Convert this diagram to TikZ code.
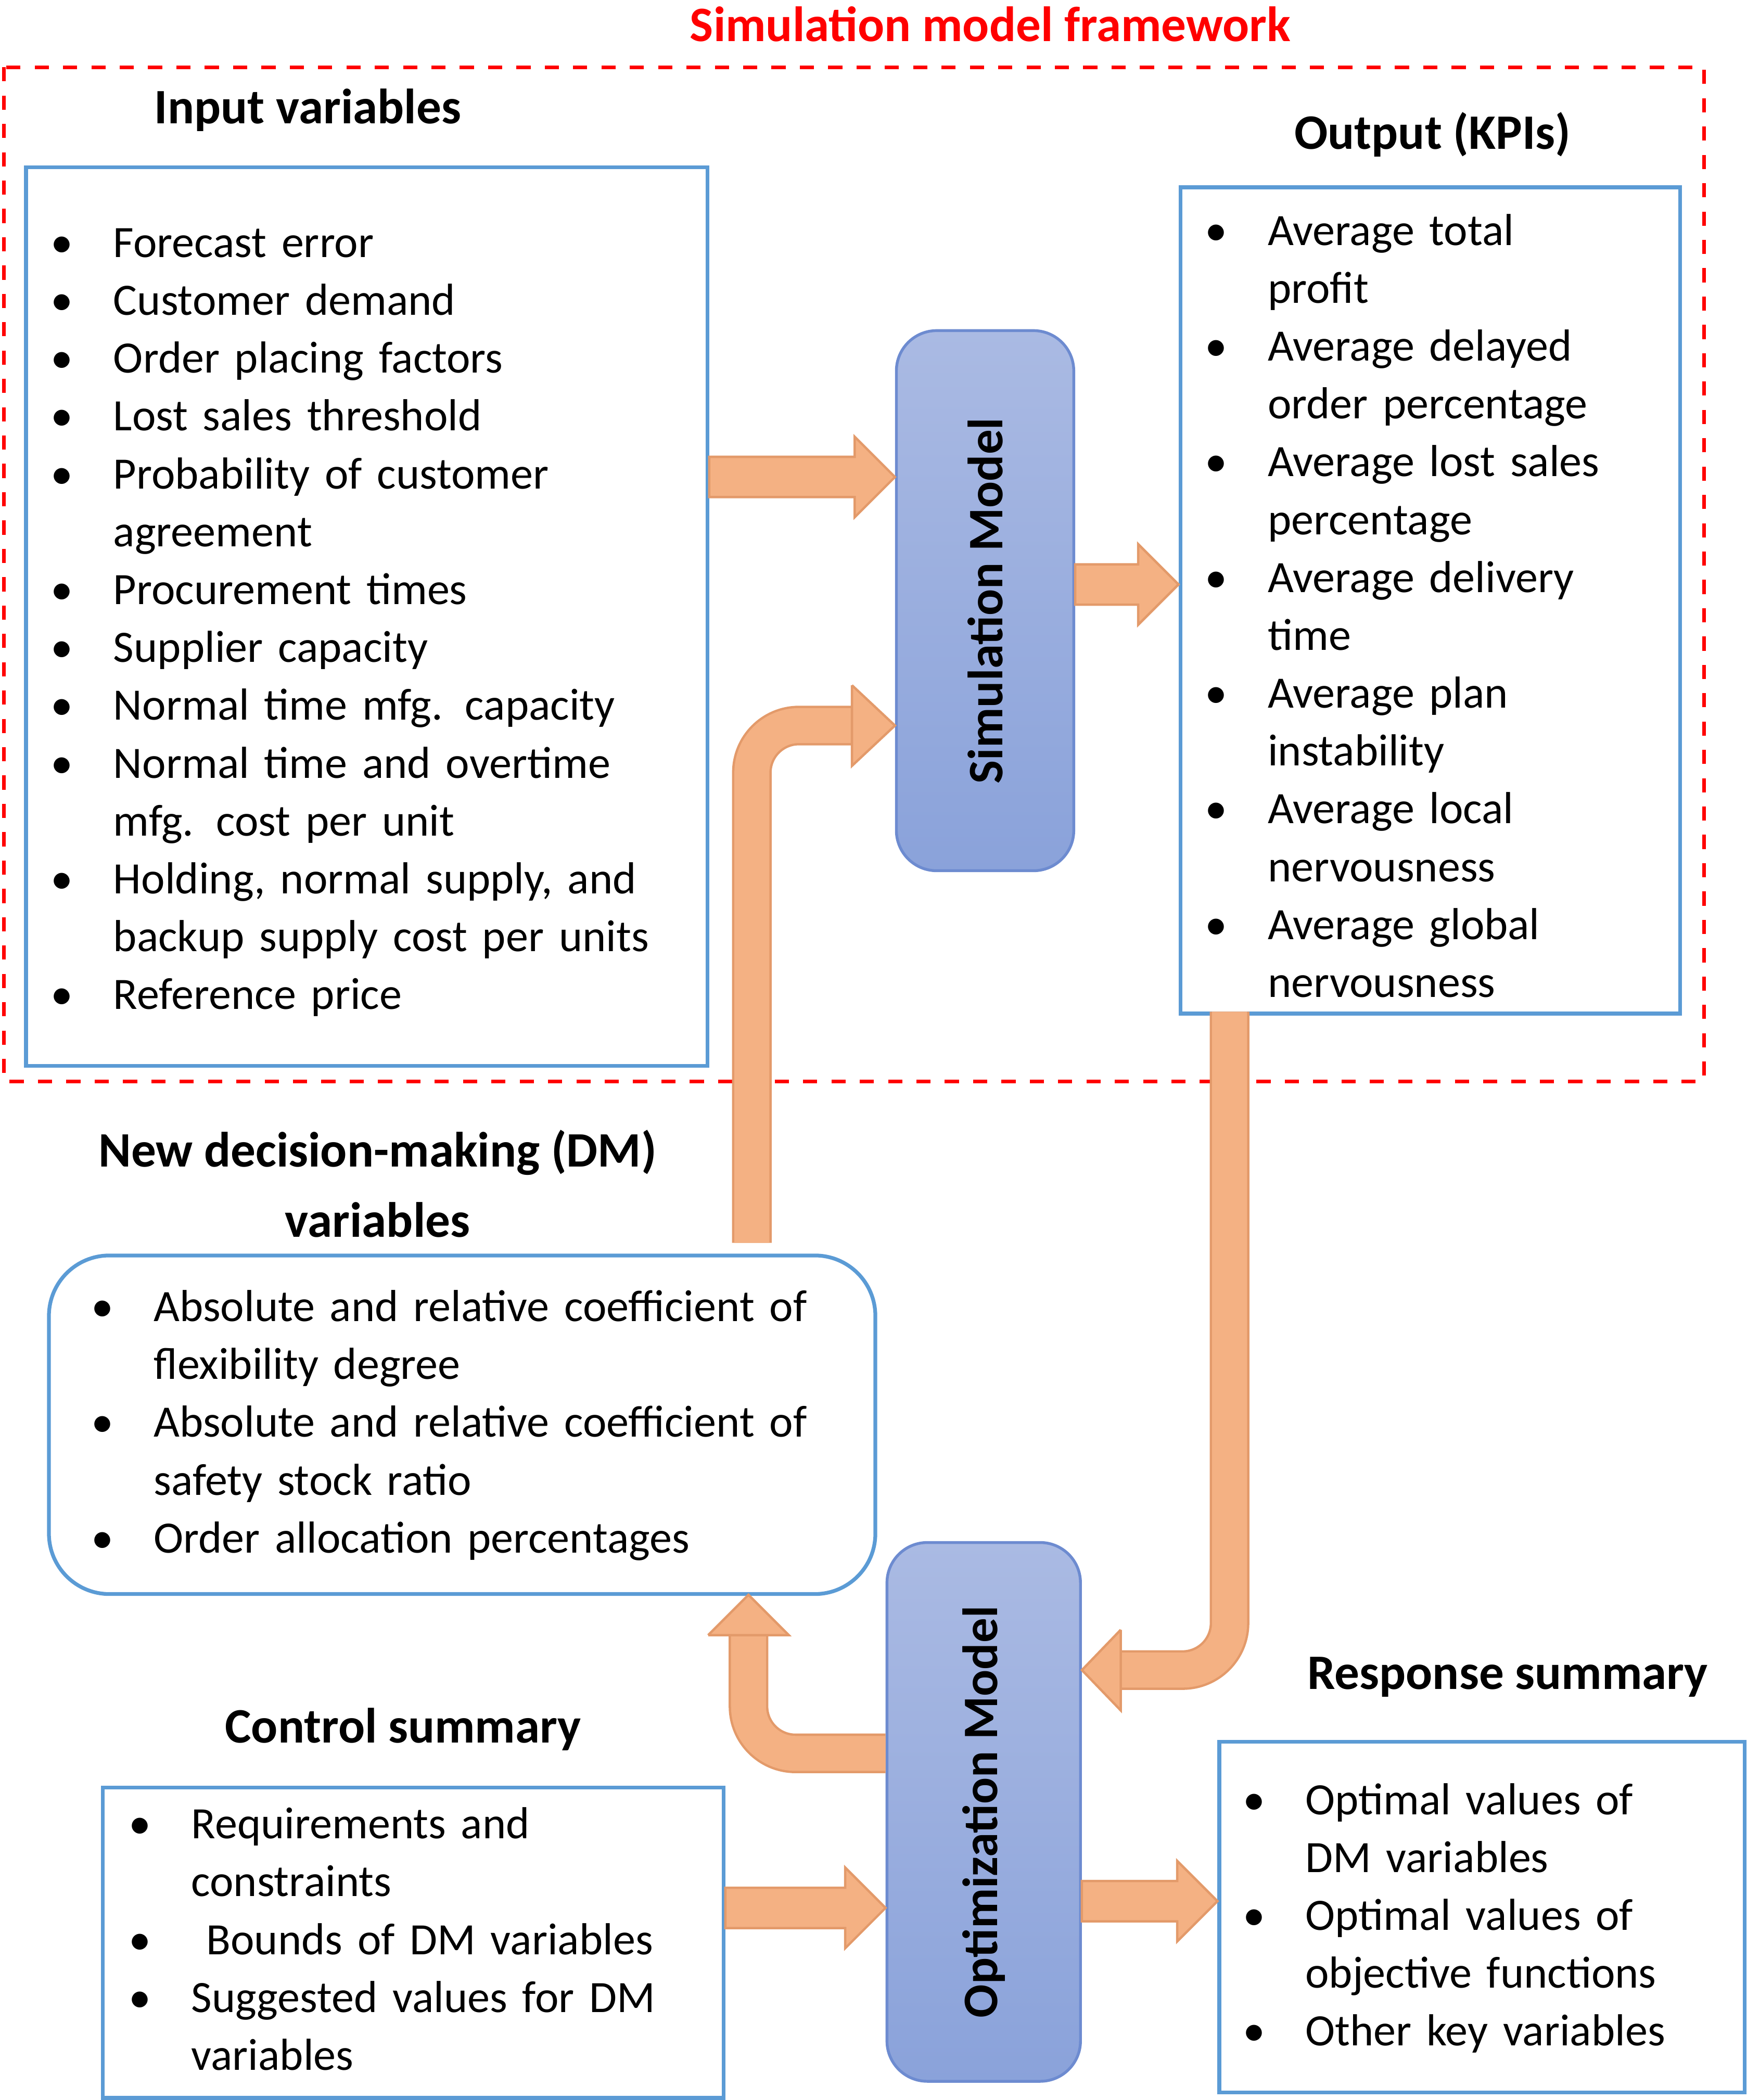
\documentclass[tikz,border=0pt]{standalone}
\usepackage{fontspec}
\setmainfont{Carlito}
\usepackage{enumitem}
\usetikzlibrary{calc,positioning}
\definecolor{boxline}{HTML}{5B9BD5}
\definecolor{arrowfill}{HTML}{F4B183}
\definecolor{arrowline}{HTML}{E39A6A}
\definecolor{modtop}{HTML}{AABAE3}
\definecolor{modbot}{HTML}{8AA2DA}
\definecolor{modline}{HTML}{6D8BD0}
\tikzset{
  txt/.style={font=\fontsize{9.5}{12.25}\selectfont},
  ttl/.style={font=\fontsize{10.5}{12.6}\selectfont\bfseries, align=center},
  listbox/.style={draw=boxline, line width=0.8pt, inner sep=0pt},
  model/.style={draw=modline, line width=0.6pt, rounded corners=0.3cm, top color=modtop, bottom color=modbot},
  fat/.style={draw=arrowline, fill=arrowfill, line width=0.5pt, line join=miter},
  bentshaft/.style={draw=arrowline, double=arrowfill, line width=0.5pt, double distance=0.26cm, rounded corners=0.35cm}
}
\newcommand\blockarrow[2]{%
  \draw[fat] ($(#1)+(0,.15)$) -- ($(#2)+(-.3,.15)$) -- ($(#2)+(-.3,.3)$) -- (#2)
    -- ($(#2)+(-.3,-.3)$) -- ($(#2)+(-.3,-.15)$) -- ($(#1)+(0,-.15)$) -- cycle;}
\newlist{blist}{itemize}{1}
\setlist[blist]{label=\textbullet, leftmargin=0.68cm, labelsep=0.3cm, itemsep=0pt, topsep=0pt, parsep=0pt, partopsep=0pt}
\begin{document}
\begin{tikzpicture}
  \useasboundingbox (0,0) rectangle (13,-15.63);

  % Framework frame
  \draw[red, dashed, line width=0.8pt] (0.03,-0.5) rectangle (12.68,-8.05);
  \node[ttl, text=red] (frame) at (7.37,-0.18) {Simulation model framework};

  % Input variables
  \node[ttl] (inpt) at (2.29,-0.82) {Input variables};
  \node[listbox, minimum width=5.07cm, minimum height=6.69cm, anchor=north west] (inp) at (0.18,-1.23) {};
  \node[txt, text width=4.8cm, anchor=north west] (inpl) at (0.04,-1.36) {%
    \begin{blist}
    \item Forecast error
    \item Customer demand
    \item Order placing factors
    \item Lost sales threshold
    \item Probability of customer agreement
    \item Procurement times
    \item Supplier capacity
    \item Normal time mfg. capacity
    \item Normal time and overtime mfg. cost per unit
    \item Holding, normal supply, and backup supply cost per units
    \item Reference price
    \end{blist}};

  % Output
  \node[ttl] (outt) at (10.66,-1.0) {Output (KPIs)};
  \node[listbox, minimum width=3.72cm, minimum height=6.15cm, anchor=north west] (out) at (8.77,-1.38) {};
  \node[txt, text width=3.2cm, anchor=north west] (outl) at (8.63,-1.27) {%
    \begin{blist}
    \item Average total profit
    \item Average delayed order percentage
    \item Average lost sales percentage
    \item Average delivery time
    \item Average plan instability
    \item Average local nervousness
    \item Average global nervousness
    \end{blist}};

  % Models
  \node[model, minimum width=1.32cm, minimum height=4.02cm, anchor=north west] (sim) at (6.66,-2.45) {};
  \node[ttl, rotate=90] at (sim.center) {Simulation Model};
  \node[model, minimum width=1.44cm, minimum height=4.01cm, anchor=north west] (opt) at (6.59,-11.47) {};
  \node[ttl, rotate=90] at (opt.center) {Optimization Model};

  % DM variables
  \node[ttl] (dmt) at (2.81,-8.81) {New decision-making (DM)\\[0.08cm]variables};
  \node[listbox, rounded corners=0.45cm, minimum width=6.15cm, minimum height=2.52cm, anchor=north west] (dm) at (0.35,-9.33) {};
  \node[txt, text width=5.6cm, anchor=north west] (dml) at (0.34,-9.28) {%
    \begin{blist}
    \item Absolute and relative coefficient of flexibility degree
    \item Absolute and relative coefficient of safety stock ratio
    \item Order allocation percentages
    \end{blist}};

  % Control summary
  \node[ttl] (ctlt) at (3.0,-12.87) {Control summary};
  \node[listbox, minimum width=4.62cm, minimum height=2.31cm, anchor=north west] (ctl) at (0.75,-13.29) {};
  \node[txt, text width=4.3cm, anchor=north west] (ctll) at (0.62,-13.13) {%
    \begin{blist}
    \item Requirements and constraints
    \item \ Bounds of DM variables
    \item Suggested values for DM variables
    \end{blist}};

  % Response summary
  \node[ttl] (rest) at (11.22,-12.48) {Response summary};
  \node[listbox, minimum width=3.91cm, minimum height=2.61cm, anchor=north west] (res) at (9.06,-12.95) {};
  \node[txt, text width=3.7cm, anchor=north west] (resl) at (8.91,-12.95) {%
    \begin{blist}
    \item Optimal values of DM variables
    \item Optimal values of objective functions
    \item Other key variables
    \end{blist}};

  % Straight arrows
  \coordinate (a1) at (inp.east |- 0,-3.55);  \coordinate (b1) at (sim.west |- 0,-3.55);
  \blockarrow{a1}{b1}
  \coordinate (a2) at (sim.east |- 0,-4.35);  \coordinate (b2) at (out.west |- 0,-4.35);
  \blockarrow{a2}{b2}
  \coordinate (a3) at (ctl.east |- 0,-14.2);  \coordinate (b3) at (opt.west |- 0,-14.2);
  \blockarrow{a3}{b3}
  \coordinate (a4) at (opt.east |- 0,-14.15); \coordinate (b4) at (res.west |- 0,-14.15);
  \blockarrow{a4}{b4}

  % Bent arrows
  \draw[bentshaft] (5.595,-9.25) -- (5.595,-5.4) -- (6.36,-5.4);
  \draw[fat] (6.34,-5.1) -- (sim.west |- 0,-5.4) -- (6.34,-5.7) -- (6.34,-5.1);
  \draw[bentshaft] (9.15,-7.53) -- (9.15,-12.43) -- (8.32,-12.43);
  \draw[fat] (8.34,-12.13) -- (opt.east |- 0,-12.43) -- (8.34,-12.73) -- (8.34,-12.13);
  \draw[bentshaft] (6.59,-13.05) -- (5.57,-13.05) -- (5.57,-12.16);
  \draw[fat] (5.27,-12.17) -- (5.57,-11.87) -- (5.87,-12.17) -- (5.27,-12.17);
\end{tikzpicture}
\end{document}
